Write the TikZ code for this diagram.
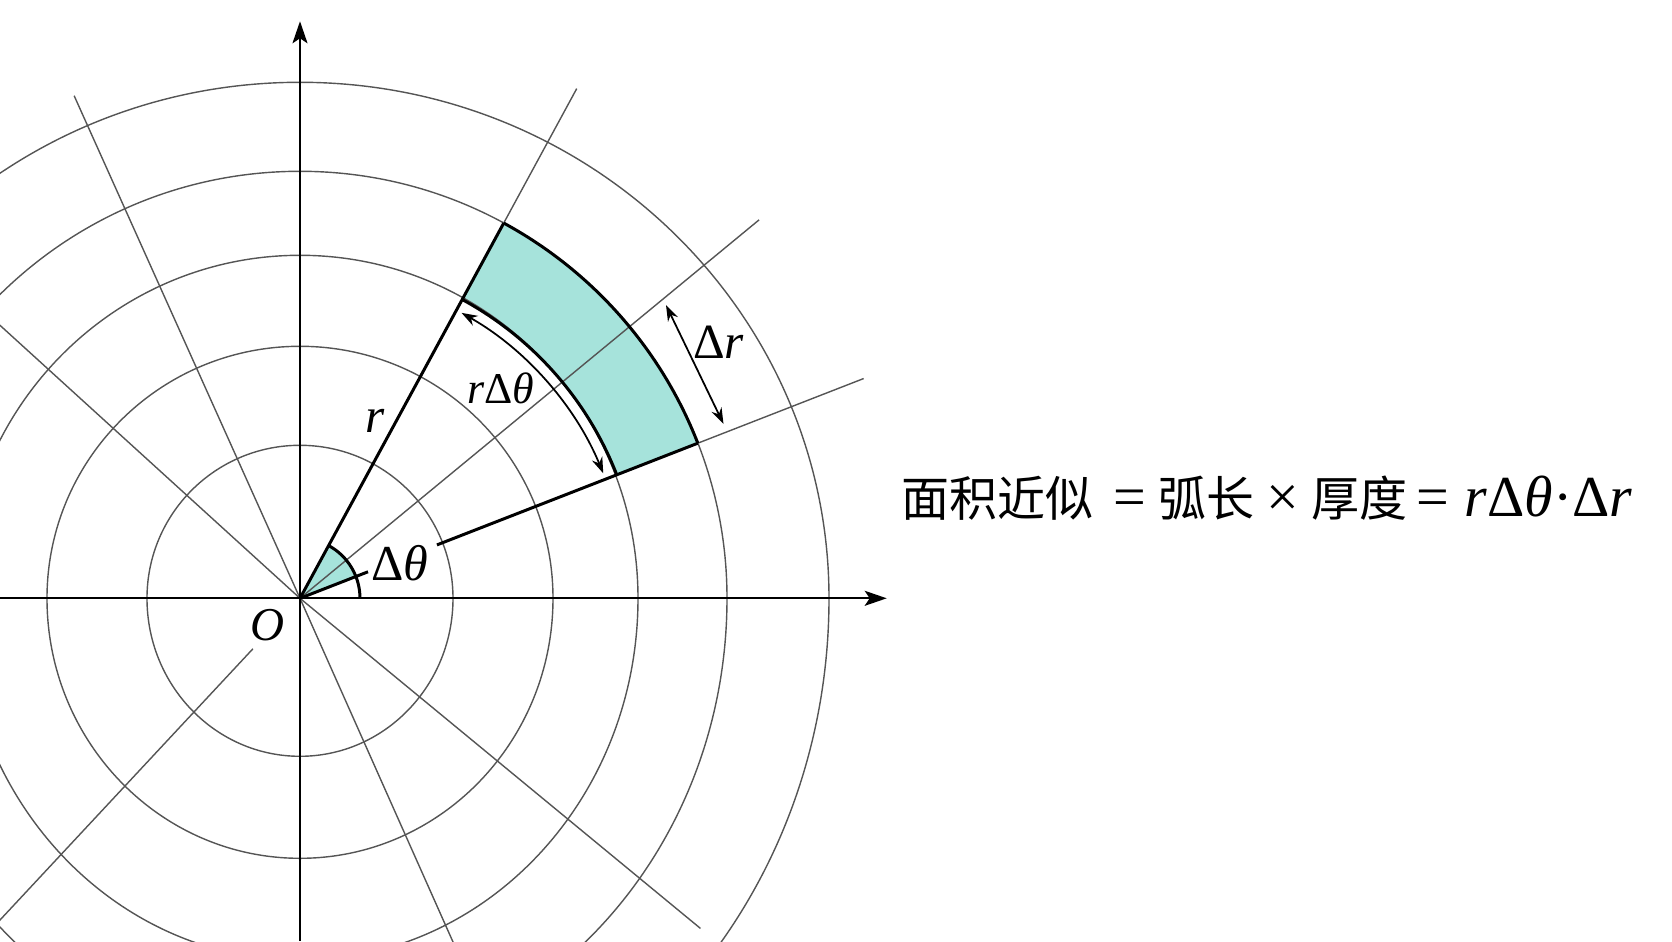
\documentclass[tikz,border=0pt]{standalone}
\usepackage{fontspec}
\setmainfont{Liberation Serif}
\newfontfamily\cjk{Noto Sans CJK SC}
\usetikzlibrary{arrows.meta}
\definecolor{sectorfill}{RGB}{166,227,219}
\definecolor{gridgray}{RGB}{85,85,85}

\begin{document}
\begin{tikzpicture}[
	gridline/.style = {draw=gridgray, line width=0.4pt},
	axisline/.style = {draw=black, line width=0.6pt, -{Stealth[length=2.2mm, width=1.5mm, inset=0.5mm]}},
	edgeline/.style = {draw=black, line width=0.85pt},
	dimline/.style = {draw=black, line width=0.5pt, {Stealth[length=1.6mm, width=1.1mm]}-{Stealth[length=1.6mm, width=1.1mm]}},
	lbl/.style = {inner sep=0pt, font=\fontsize{#1}{#1}\selectfont}
	]
	\useasboundingbox (-3,-3.427) rectangle (13.72,5.983);
	\begin{scope}
		\clip (-3,-3.427) rectangle (13.72,5.983);
		% the shaded piece and the small angle
		\fill[sectorfill] (21.3:3.40) arc[start angle=21.3, end angle=61.5, radius=3.40]
			-- (61.5:4.27) arc[start angle=61.5, end angle=21.3, radius=4.27] -- cycle;
		\fill[sectorfill] (0,0) -- (21.3:0.6) arc[start angle=21.3, end angle=61.5, radius=0.6] -- cycle;
		% circles, drawn as two halves (a little taller below the axis)
		\foreach \r/\t/\s in {1.53/1.53/1.58, 2.53/2.52/2.60, 3.38/3.43/3.62, 4.27/4.27/4.62, 5.29/5.16/5.68}
			\draw[gridline] (\r,0) arc[start angle=0, end angle=180, x radius=\r, y radius=\t]
				arc[start angle=180, end angle=360, x radius=\r, y radius=\s];
		% rays
		\foreach \a/\l in {39.5/5.95, 114.2/5.51, 137.7/5, -66/4.2, -39.5/5.19}
			\draw[gridline] (0,0) -- (\a:\l);
		\draw[gridline] (227:0.69) -- (227:5.5);
		\draw[gridline] (21.3:4.27) -- (21.3:6.05);
		\draw[gridline] (61.5:4.27) -- (61.5:5.8);
	\end{scope}
	% axes
	\draw[axisline] (-3,0) -- (5.867,0);
	\draw[axisline] (0,-3.427) -- (0,5.77);
	% edges of the piece
	\draw[edgeline] (0,0) -- (61.5:4.27);
	\draw[edgeline] (0,0) -- (21.3:0.73);
	\draw[edgeline] (21.3:1.47) -- (21.3:4.27);
	\draw[edgeline] (21.3:3.40) arc[start angle=21.3, end angle=61.5, radius=3.40];
	\draw[edgeline] (21.3:4.27) arc[start angle=21.3, end angle=61.5, radius=4.27];
	\draw[edgeline] (0.6,0) arc[start angle=0, end angle=61.5, radius=0.6];
	% arc length and thickness
	\draw[dimline] (60.5:3.28) arc[start angle=60.5, end angle=22.4, radius=3.28];
	\coordinate (drtop) at (3.66,2.933);
	\coordinate (drbot) at (4.235,1.743);
	\draw[dimline] (drtop) -- (drbot);
	% labels
	\node[lbl=13.4pt] (origin) at (-0.323,-0.267) {\textit{O}};
	\node[lbl=14.3pt] (dtheta) at (1.00,0.353) {Δ\textit{θ}};
	\node[lbl=12.5pt] (arclen) at (2.01,2.10) {\textit{r}Δ\textit{θ}};
	\node[lbl=14pt] (dr) at (4.187,2.556) {Δ\textit{r}};
	\node[lbl=14pt] (radius) at (0.753,1.771) {\textit{r}};
	\node[lbl=16.5pt, anchor=base west] (area) at (6.01,0.82)
		{{\cjk\fontsize{13.66pt}{14pt}\selectfont 面积近似}\hspace{5.7pt}=\hspace{3.4pt}{\cjk\fontsize{13.66pt}{14pt}\selectfont 弧长}\hspace{3.4pt}×\hspace{3.4pt}{\cjk\fontsize{13.66pt}{14pt}\selectfont 厚度}\hspace{2.8pt}=\hspace{4.3pt}\textit{r}Δ\textit{θ}·Δ\textit{r}};
\end{tikzpicture}
\end{document}
